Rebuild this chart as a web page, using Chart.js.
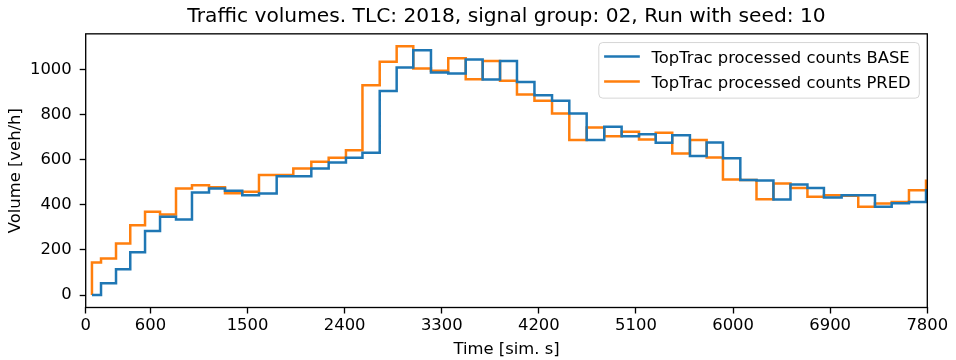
<!DOCTYPE html>
<html><head><meta charset="utf-8">
<script src="https://cdn.jsdelivr.net/npm/chart.js@4/dist/chart.umd.min.js"></script>
<style>html,body{margin:0;padding:0;background:#fff;}canvas{display:block;}</style>
</head><body>
<canvas id="c" width="956" height="360"></canvas>
<script>
// step edges (simulation seconds): start, interval boundaries, end
const stepTimes = [58, 142, 281, 413, 550, 689, 837, 985, 1143, 1291, 1451, 1606, 1770, 1924, 2091, 2252, 2412, 2565, 2725, 2882, 3036, 3200, 3360, 3522, 3679, 3840, 3997, 4159, 4322, 4482, 4643, 4806, 4967, 5128, 5283, 5436, 5600, 5755, 5906, 6067, 6217, 6374, 6532, 6689, 6842, 7006, 7160, 7315, 7470, 7630, 7788, 7800];
// value that holds on the interval ending at each time (first entry = start level)
const baseCounts = [0, 0, 52, 115, 190, 284, 347, 335, 455, 472, 463, 443, 450, 527, 527, 561, 588, 609, 631, 905, 1009, 1085, 987, 982, 1044, 956, 1038, 945, 886, 861, 805, 687, 746, 704, 713, 675, 709, 616, 676, 606, 510, 508, 424, 490, 475, 433, 443, 443, 392, 407, 413, 465];
const predCounts = [0, 145, 162, 229, 310, 369, 357, 473, 487, 478, 451, 458, 532, 532, 561, 591, 609, 642, 930, 1034, 1103, 1004, 994, 1050, 957, 1038, 950, 889, 861, 805, 687, 743, 704, 724, 690, 720, 628, 687, 610, 512, 510, 425, 495, 475, 436, 443, 440, 392, 406, 413, 465, 507];
const seriesLabels = ['TopTrac processed counts BASE', 'TopTrac processed counts PRED'];
const xTicks = [0, 600, 1500, 2400, 3300, 4200, 5100, 6000, 6900, 7800];
const yTicks = [0, 200, 400, 600, 800, 1000];
const titleText = 'Traffic volumes. TLC: 2018, signal group: 02, Run with seed: 10';
const xLabel = 'Time [sim. s]';
const yLabel = 'Volume [veh/h]';

const FAM = 'DejaVu Sans';
const baseFont = {family: FAM, size: 16.4, weight: 'normal', lineHeight: 1.2};
const colors = ['#1f77b4', '#ff7f0e'];

function pts(vals) { return stepTimes.map((t, i) => ({x: t, y: vals[i]})); }

const framePlugin = {
  id: 'frame',
  afterDatasetsDraw(chart) {
    const {ctx, chartArea: a} = chart;
    ctx.save();
    ctx.strokeStyle = '#000';
    ctx.lineWidth = 1.33;
    ctx.strokeRect(a.left, a.top, a.right - a.left, a.bottom - a.top);
    ctx.restore();
  },
  afterDraw(chart) {
    const {ctx, chartArea: a} = chart;
    ctx.save();
    ctx.font = '16.4px "' + FAM + '"';
    const tw = Math.max(...seriesLabels.map(s => ctx.measureText(s).width));
    const boxRight = a.right - 8;
    const boxTop = a.top + 8.7;
    const textX = boxRight - 8.6 - tw;
    const boxLeft = textX - 52.7;
    const boxBottom = boxTop + 55.6;
    const r = 4;
    ctx.beginPath();
    ctx.moveTo(boxLeft + r, boxTop);
    ctx.lineTo(boxRight - r, boxTop);
    ctx.arcTo(boxRight, boxTop, boxRight, boxTop + r, r);
    ctx.lineTo(boxRight, boxBottom - r);
    ctx.arcTo(boxRight, boxBottom, boxRight - r, boxBottom, r);
    ctx.lineTo(boxLeft + r, boxBottom);
    ctx.arcTo(boxLeft, boxBottom, boxLeft, boxBottom - r, r);
    ctx.lineTo(boxLeft, boxTop + r);
    ctx.arcTo(boxLeft, boxTop, boxLeft + r, boxTop, r);
    ctx.closePath();
    ctx.fillStyle = 'rgba(255,255,255,0.8)';
    ctx.fill();
    ctx.strokeStyle = 'rgba(204,204,204,0.8)';
    ctx.lineWidth = 1;
    ctx.stroke();
    seriesLabels.forEach((lab, i) => {
      const ly = boxTop + 14 + i * 25;
      ctx.beginPath();
      ctx.moveTo(textX - 47.4, ly);
      ctx.lineTo(textX - 11.7, ly);
      ctx.strokeStyle = colors[i];
      ctx.lineWidth = 2.5;
      ctx.stroke();
      ctx.fillStyle = '#000';
      ctx.textBaseline = 'alphabetic';
      ctx.textAlign = 'left';
      ctx.fillText(lab, textX, ly + 6);
    });
    ctx.restore();
  }
};

new Chart(document.getElementById('c'), {
  type: 'line',
  data: {
    datasets: [
      {label: seriesLabels[0], data: pts(baseCounts), borderColor: colors[0], borderWidth: 2.5, stepped: 'after', pointRadius: 0, fill: false},
      {label: seriesLabels[1], data: pts(predCounts), borderColor: colors[1], borderWidth: 2.5, stepped: 'after', pointRadius: 0, fill: false}
    ]
  },
  options: {
    responsive: false,
    animation: false,
    devicePixelRatio: 1,
    layout: {padding: {left: 0, right: 28.7, top: 0, bottom: 0}},
    plugins: {
      legend: {display: false},
      tooltip: {enabled: false},
      title: {display: true, fullSize: false, text: titleText, color: '#000',
        font: {family: FAM, size: 20.2, weight: 'normal', lineHeight: 1.2}, padding: {top: 4.6, bottom: 5}}
    },
    scales: {
      x: {
        type: 'linear', min: 0, max: 7800,
        afterBuildTicks: s => { s.ticks = xTicks.map(v => ({value: v})); },
        afterFit: s => { s.height = 52.5; },
        grid: {drawOnChartArea: false, drawTicks: true, tickLength: 6, tickColor: '#000', tickWidth: 1.33},
        border: {display: false},
        ticks: {color: '#000', font: baseFont, padding: 2, maxRotation: 0, autoSkip: false, callback: v => String(v)},
        title: {display: true, text: xLabel, color: '#000', font: baseFont, padding: {top: 0, bottom: 0}}
      },
      y: {
        type: 'linear', min: -55, max: 1158,
        afterBuildTicks: s => { s.ticks = yTicks.map(v => ({value: v})); },
        afterFit: s => { s.width = 85.7; },
        grid: {drawOnChartArea: false, drawTicks: true, tickLength: 6, tickColor: '#000', tickWidth: 1.33},
        border: {display: false},
        ticks: {color: '#000', font: baseFont, padding: 8, callback: v => String(v)},
        title: {display: true, text: yLabel, color: '#000', font: baseFont, padding: {top: 6, bottom: 0}}
      }
    }
  },
  plugins: [framePlugin]
});
</script>
</body></html>
